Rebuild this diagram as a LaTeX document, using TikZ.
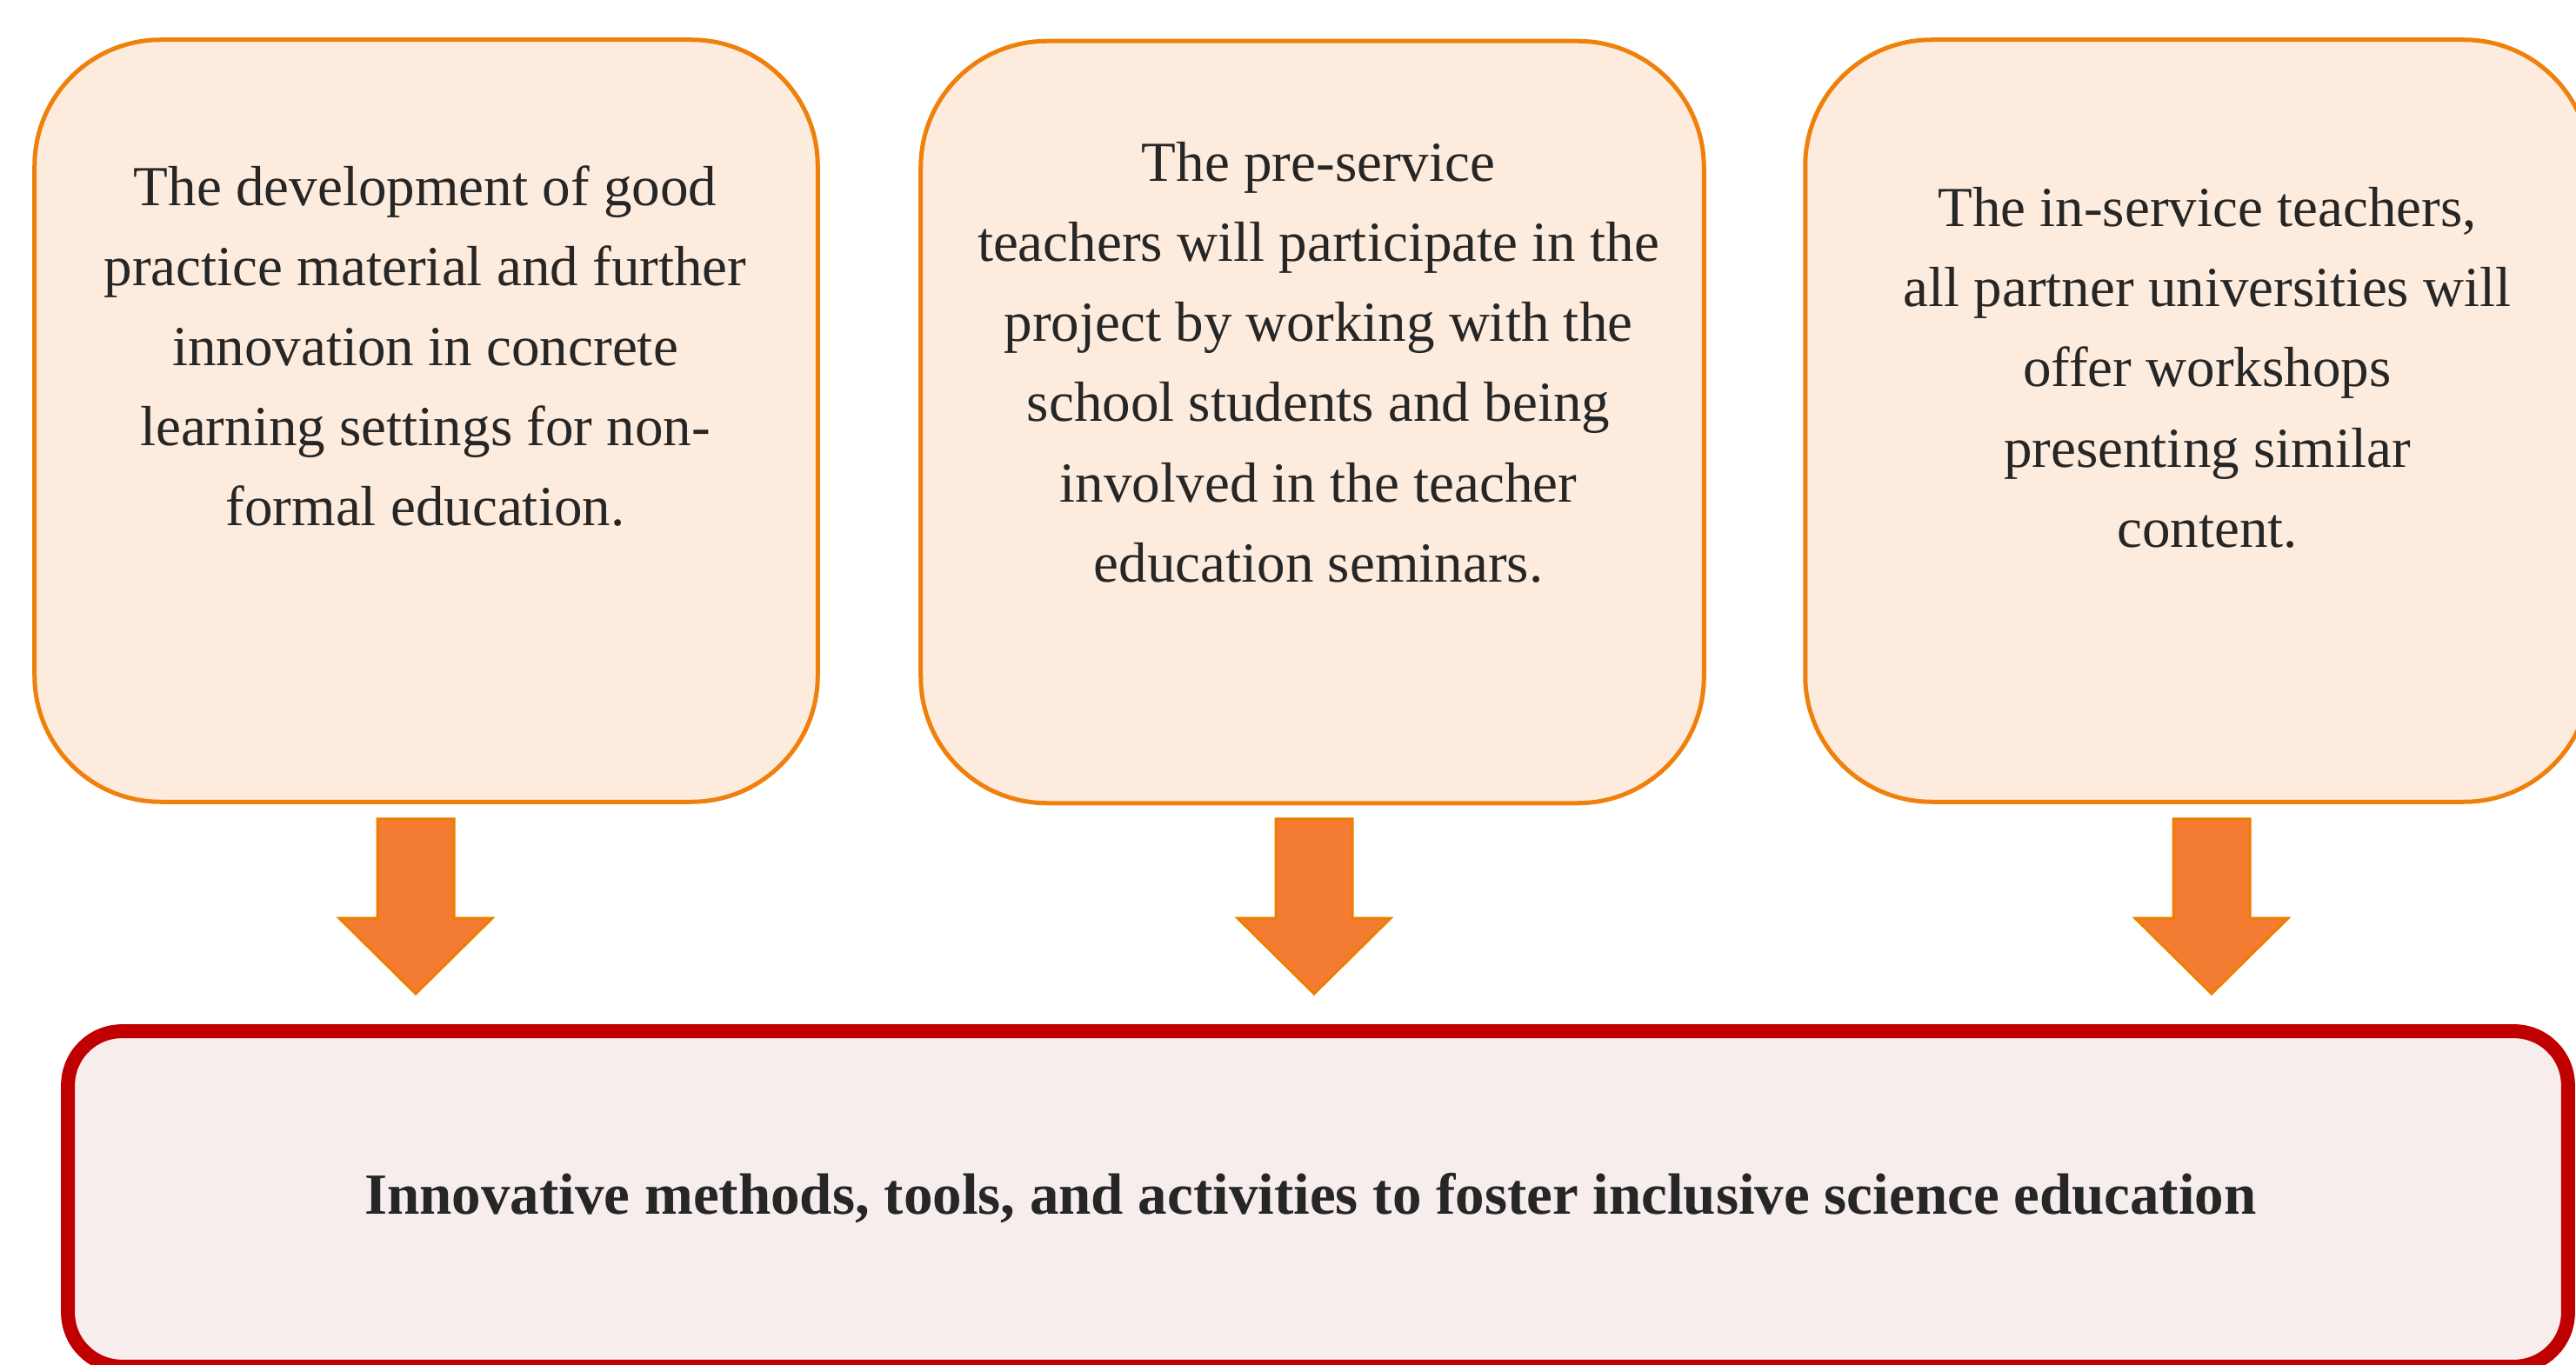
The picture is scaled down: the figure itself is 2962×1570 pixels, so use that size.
\documentclass[tikz,border=0pt]{standalone}
\usepackage{fontspec}
\setmainfont{Liberation Serif}
\definecolor{boxfill}{RGB}{253,236,222}
\definecolor{boxline}{RGB}{240,128,12}
\definecolor{arrfill}{RGB}{244,124,50}
\definecolor{arrline}{RGB}{238,125,0}
\definecolor{outfill}{RGB}{247,237,237}
\definecolor{outline}{RGB}{192,0,0}
\definecolor{txt}{RGB}{38,38,38}
\tikzset{
  obox/.style={draw=boxline, fill=boxfill, line width=0.05cm, rounded corners=1.45cm,
    minimum width=9cm, minimum height=8.76cm, inner sep=0pt},
  btxt/.style={text=txt, align=center, inner sep=0pt,
    font=\fontsize{18.5}{26.2}\selectfont},
  resbox/.style={draw=outline, fill=outfill, line width=0.16cm, rounded corners=0.62cm,
    minimum width=28.73cm, minimum height=3.855cm, inner sep=0pt},
  restxt/.style={text=txt, inner sep=0pt, font=\fontsize{19.05}{22}\selectfont\bfseries},
  fatarrow/.pic={
    \draw[draw=arrline, fill=arrfill, line width=0.03cm, line join=miter]
      (-44,0) -- (-44,114) -- (-88,114) -- (0,201) -- (88,114) -- (44,114) -- (44,0) -- cycle;
  }
}
\begin{document}
\begin{tikzpicture}[x=0.01cm, y=-0.01cm]
\useasboundingbox (0,0) rectangle (2962,1570);
\clip (0,0) rectangle (2962,1570);

% top boxes
\node[obox] (b1) at (490,484) {};
\node[obox] (b2) at (1509,485.5) {};
\node[obox, minimum width=9.02cm] (b3) at (2527,484) {};

\node[btxt] (t1) at (489,402) {\strut The development of good\\practice material and further\\innovation in concrete\\learning settings for non-\\formal education.\strut};
\node[btxt] (t2) at (1516,420.5) {\strut The pre-service\\teachers will participate in the\\project by working with the\\school students and being\\involved in the teacher\\education seminars.\strut};
\node[btxt] (t3) at (2538,426.5) {\strut The in-service teachers,\\all partner universities will\\offer workshops\\presenting similar\\content.\strut};

% result box
\node[resbox] (res) at (1515.5,1379) {};
\node[restxt, anchor=base] (rt) at (1507,1396) {Innovative methods, tools, and activities to foster inclusive science education};

% arrows
\coordinate (a1) at (478,942);
\coordinate (a2) at (1511,942);
\coordinate (a3) at (2543,942);
\pic at (a1) {fatarrow};
\pic at (a2) {fatarrow};
\pic at (a3) {fatarrow};
\end{tikzpicture}
\end{document}
